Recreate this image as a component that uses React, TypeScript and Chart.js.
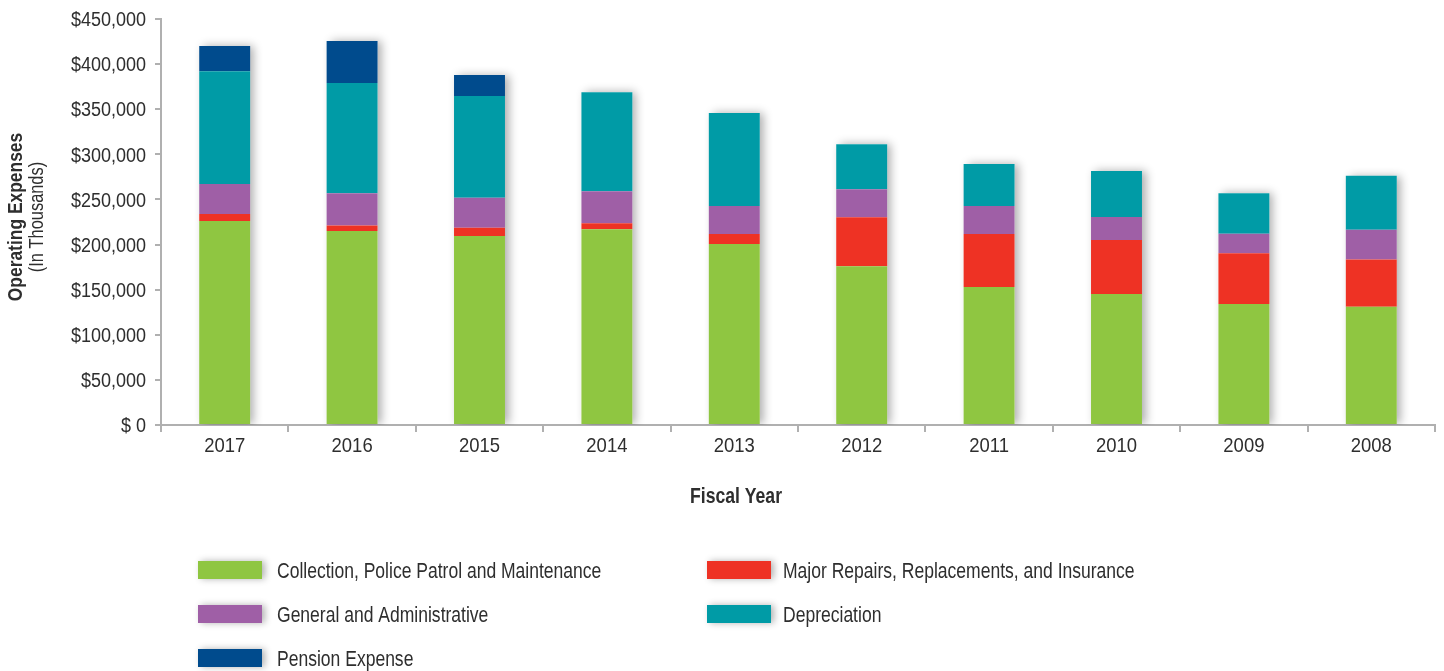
import React, { useEffect, useRef } from 'react';
import { Chart, registerables } from 'chart.js';

Chart.register(...registerables);

const years = ['2017', '2016', '2015', '2014', '2013', '2012', '2011', '2010', '2009', '2008'];
const collection = [226000, 215000, 209500, 217000, 200600, 176000, 153000, 145200, 134000, 131000];
const majorRepairs = [8000, 6000, 9200, 6700, 11000, 54300, 58700, 59800, 56500, 52400];
const generalAdmin = [33000, 36000, 33250, 35500, 31000, 31000, 31000, 25500, 21400, 33000];
const depreciation = [125000, 122000, 112700, 109700, 103100, 50000, 46500, 51000, 45100, 59800];
const pension = [28000, 46500, 23300, null, null, null, null, null, null, null];

const seriesNames = [
  'Collection, Police Patrol and Maintenance',
  'Major Repairs, Replacements, and Insurance',
  'General and Administrative',
  'Depreciation',
  'Pension Expense',
];
const seriesColors = ['#8fc641', '#ee3224', '#9f5fa6', '#009ba6', '#004b8d'];

const yMin = 0;
const yMax = 450000;
const yStep = 50000;

const xTitle = 'Fiscal Year';
const yTitle = 'Operating Expenses';
const ySubTitle = '(In Thousands)';

const FONT = "'Liberation Sans', Arial, 'Helvetica Neue', sans-serif";
const TEXT = '#2e2e2e';
const AXIS = '#b0b0b0';

function condensedText(
  ctx: CanvasRenderingContext2D,
  text: string,
  x: number,
  y: number,
  font: string,
  align: CanvasTextAlign,
  sx: number,
  rotate = 0
) {
  ctx.save();
  ctx.translate(x, y);
  if (rotate) ctx.rotate(rotate);
  ctx.scale(sx, 1);
  ctx.font = font;
  ctx.textAlign = align;
  ctx.textBaseline = 'alphabetic';
  ctx.fillStyle = TEXT;
  ctx.fillText(text, 0, 0);
  ctx.restore();
}

const shadowPlugin = {
  id: 'stackShadow',
  beforeDatasetsDraw(chart: any) {
    const ctx = chart.ctx;
    const area = chart.chartArea;
    const n = chart.data.labels.length;
    ctx.save();
    ctx.beginPath();
    ctx.rect(area.left, area.top - 20, area.right - area.left + 20, area.bottom - area.top + 20);
    ctx.clip();
    for (let i = 0; i < n; i++) {
      let top = Infinity;
      let base = -Infinity;
      let x = 0;
      let w = 0;
      chart.data.datasets.forEach((_: any, di: number) => {
        const el: any = chart.getDatasetMeta(di).data[i];
        if (!el || el.y == null || isNaN(el.y) || chart.data.datasets[di].data[i] == null) return;
        top = Math.min(top, el.y, el.base);
        base = Math.max(base, el.base, el.y);
        x = el.x;
        w = el.width;
      });
      if (!isFinite(top)) continue;
      ctx.shadowColor = 'rgba(0,0,0,0.32)';
      ctx.shadowBlur = 9;
      ctx.shadowOffsetX = 4;
      ctx.shadowOffsetY = 0;
      ctx.fillStyle = '#ffffff';
      ctx.fillRect(x - w / 2, top, w, base - top);
    }
    ctx.restore();
  },
};

const textPlugin = {
  id: 'condensedText',
  afterDraw(chart: any) {
    const ctx: CanvasRenderingContext2D = chart.ctx;
    const xs = chart.scales.x;
    const ys = chart.scales.y;
    const area = chart.chartArea;

    // Y tick labels
    ys.ticks.forEach((t: any, i: number) => {
      const py = ys.getPixelForTick(i);
      condensedText(ctx, String(t.label), area.left - 15, py + 7.2, `20px ${FONT}`, 'right', 0.9);
    });
    // X tick labels
    xs.ticks.forEach((t: any, i: number) => {
      const px = xs.getPixelForTick(i);
      condensedText(ctx, String(t.label), px, area.bottom + 27, `21px ${FONT}`, 'center', 0.88);
    });
    // Axis titles
    condensedText(ctx, xTitle, 736, area.bottom + 78, `bold 22px ${FONT}`, 'center', 0.8);
    const cy = (area.top + area.bottom) / 2 - 5;
    condensedText(ctx, yTitle, 21.5, cy, `bold 20.5px ${FONT}`, 'center', 0.85, -Math.PI / 2);
    condensedText(ctx, ySubTitle, 43, cy, `20px ${FONT}`, 'center', 0.82, -Math.PI / 2);

    // Legend: two columns, row-major order
    const colSwatchX = [198, 707];
    const colTextX = [277, 783];
    const rowBase = [578, 622, 666];
    chart.data.datasets.forEach((ds: any, i: number) => {
      const col = i % 2;
      const row = Math.floor(i / 2);
      const sx = colSwatchX[col];
      const cyRow = rowBase[row] - 8;
      ctx.save();
      ctx.shadowColor = 'rgba(0,0,0,0.3)';
      ctx.shadowBlur = 7;
      ctx.shadowOffsetX = 3;
      ctx.fillStyle = ds.backgroundColor;
      ctx.fillRect(sx, cyRow - 9, 64, 18);
      ctx.restore();
      condensedText(ctx, ds.label, colTextX[col], rowBase[row], `21.5px ${FONT}`, 'left', 0.815);
    });
  },
};

export default function App() {
  const canvasRef = useRef<HTMLCanvasElement | null>(null);

  useEffect(() => {
    const canvas = canvasRef.current;
    if (!canvas) return;
    const seriesData = [collection, majorRepairs, generalAdmin, depreciation, pension];
    const chart = new Chart(canvas, {
      type: 'bar',
      data: {
        labels: years,
        datasets: seriesData.map((d, i) => ({
          label: seriesNames[i],
          data: d as any,
          backgroundColor: seriesColors[i],
          borderWidth: 0,
          categoryPercentage: 1,
          barPercentage: 0.4,
        })),
      },
      options: {
        responsive: false,
        animation: false,
        events: [],
        layout: { padding: { top: 19, left: 0, right: 9, bottom: 156 } },
        plugins: {
          legend: { display: false },
          tooltip: { enabled: false },
          title: { display: false },
        },
        scales: {
          x: {
            stacked: true,
            grid: {
              display: true,
              drawOnChartArea: false,
              drawTicks: true,
              tickLength: 7,
              color: AXIS,
              lineWidth: 2,
              offset: true,
            },
            border: { display: true, color: AXIS, width: 2 },
            ticks: { display: false, maxRotation: 0, autoSkip: false },
            title: { display: false },
            afterFit(scale: any) {
              scale.height = 90;
            },
          },
          y: {
            stacked: true,
            min: yMin,
            max: yMax,
            grid: {
              display: true,
              drawOnChartArea: false,
              drawTicks: true,
              tickLength: 6,
              color: AXIS,
              lineWidth: 2,
            },
            border: { display: true, color: AXIS, width: 2 },
            ticks: {
              display: false,
              stepSize: yStep,
              callback: (v: any) => (Number(v) === 0 ? '$ 0' : '$' + Number(v).toLocaleString('en-US')),
            },
            afterFit(scale: any) {
              scale.width = 161;
            },
          },
        },
      },
      plugins: [shadowPlugin, textPlugin],
    });
    return () => chart.destroy();
  }, []);

  return (
    <div style={{ position: 'absolute', left: 0, top: 0, width: 1444, height: 671, background: '#fff' }}>
      <canvas ref={canvasRef} width={1444} height={671} style={{ display: 'block' }} />
    </div>
  );
}
